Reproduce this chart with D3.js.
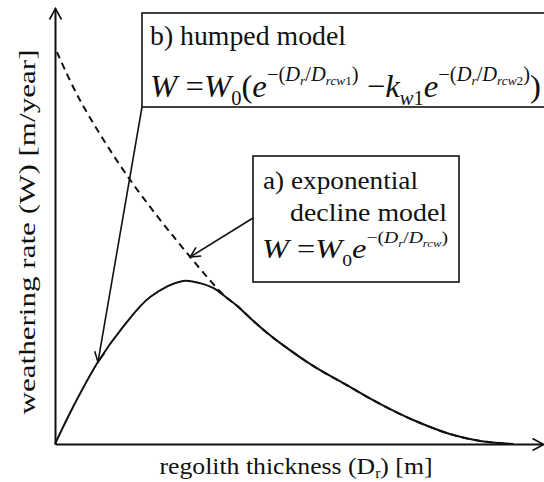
<!DOCTYPE html>
<html>
<head>
<meta charset="utf-8">
<script src="https://cdn.jsdelivr.net/npm/d3@7"></script>
<style>
  body { margin: 0; background: #fff; }
  svg text { font-family: "Liberation Serif", "Times New Roman", Times, serif; fill: #111; white-space: pre; }
</style>
</head>
<body>
<svg id="chart" width="544" height="482"></svg>
<script>
/*
 conceptual sketch, no ticks: thickness and rate are in arbitrary units
 values
*/
var thickness = [0, 0.37, 0.88, 1.39, 1.95, 2.62, 2.97, 3.24, 3.48, 3.73, 4.00, 4.30, 4.61, 5.29, 5.98, 6.66, 7.34, 8.09, 8.71, 9.39];
var humped    = [0, 0.085, 0.188, 0.268, 0.337, 0.374, 0.369, 0.358, 0.339, 0.317, 0.289, 0.259, 0.232, 0.179, 0.135, 0.092, 0.055, 0.023, 0.007, 0];
var expThickness = [0.04, 0.51, 1.50, 2.77, 3.48, 3.73, 4.00, 4.30, 4.61, 5.29, 5.98, 6.66, 7.34, 8.09, 8.71, 9.39];
var expDecline   = [0.899, 0.789, 0.612, 0.429, 0.339, 0.317, 0.289, 0.259, 0.232, 0.179, 0.135, 0.092, 0.055, 0.023, 0.007, 0];

var xLabel = ["regolith thickness (D", "r", ") [m]"];
var yLabel = "weathering rate (W) [m/year]";
var titleA = ["a) exponential", "decline model"];
var titleB = "b) humped model";

var svg = d3.select("#chart");
var x = d3.scaleLinear().domain([0, 10]).range([55, 543]);
var y = d3.scaleLinear().domain([0, 1]).range([444, 8]);

var defs = svg.append("defs");
function chevron(id, len, half) {
  defs.append("marker")
    .attr("id", id)
    .attr("markerUnits", "userSpaceOnUse")
    .attr("viewBox", (-len - 2) + " " + (-half - 2) + " " + (len + 4) + " " + (2 * half + 4))
    .attr("markerWidth", len + 4).attr("markerHeight", 2 * half + 4)
    .attr("refX", 0).attr("refY", 0)
    .attr("orient", "auto")
    .append("path")
    .attr("d", "M" + (-len) + "," + (-half) + "L0,0L" + (-len) + "," + half)
    .attr("fill", "none").attr("stroke", "#111").attr("stroke-width", 1.6);
}
chevron("axisHead", 11, 6);
chevron("pointHead", 10, 5);

// axes: only the domain lines, with arrow heads
var gx = svg.append("g").attr("transform", "translate(0," + y(0) + ")")
  .call(d3.axisBottom(x).tickValues([]).tickSizeOuter(0));
var gy = svg.append("g").attr("transform", "translate(" + x(0) + ",0)")
  .call(d3.axisLeft(y).tickValues([]).tickSizeOuter(0));
[gx, gy].forEach(function(g) {
  g.select(".domain").attr("stroke", "#111").attr("stroke-width", 2).attr("marker-end", "url(#axisHead)");
});

var line = d3.line()
  .x(function(d) { return x(d[0]); })
  .y(function(d) { return y(d[1]); })
  .curve(d3.curveCatmullRom.alpha(0.5));

svg.append("path")
  .datum(d3.zip(expThickness, expDecline))
  .attr("d", line)
  .attr("fill", "none").attr("stroke", "#111").attr("stroke-width", 2)
  .attr("stroke-dasharray", "7,5");

svg.append("path")
  .datum(d3.zip(thickness, humped))
  .attr("d", line)
  .attr("fill", "none").attr("stroke", "#111").attr("stroke-width", 2);

// axis labels
svg.append("text")
  .attr("x", 296).attr("y", 474)
  .attr("text-anchor", "middle").attr("font-size", 23)
  .attr("textLength", 273).attr("lengthAdjust", "spacingAndGlyphs")
  .call(function(t) {
    t.append("tspan").text(xLabel[0]);
    t.append("tspan").text(xLabel[1]).attr("font-size", 14).attr("dy", 4);
    t.append("tspan").text(xLabel[2]).attr("dy", -4);
  });

svg.append("text")
  .attr("transform", "rotate(-90)")
  .attr("x", -232).attr("y", 35)
  .attr("text-anchor", "middle").attr("font-size", 24)
  .attr("textLength", 365).attr("lengthAdjust", "spacingAndGlyphs")
  .text(yLabel);

// formula writer: [text, size, italic, level(px, down is +)]
function formula(g, px, py, len, parts) {
  var t = g.append("text").attr("x", px).attr("y", py)
    .attr("textLength", len).attr("lengthAdjust", "spacingAndGlyphs");
  var level = 0;
  parts.forEach(function(p) {
    t.append("tspan").text(p[0])
      .attr("font-size", p[1])
      .attr("font-style", p[2] ? "italic" : "normal")
      .attr("dy", p[3] - level);
    level = p[3];
  });
  return t;
}
function expo(sup, sub, last, lift) {
  var hi = -lift, lo = -lift + 4;
  return [["\u2212(", sup, 0, hi], ["D", sup, 1, hi], ["r", sub, 1, lo], ["/", sup, 0, hi],
          ["D", sup, 1, hi], ["rcw", sub, 1, lo]].concat(last ? [[last, sub, 0, lo]] : [])
          .concat([[")", sup, 0, hi]]);
}

// b) box
var boxB = svg.append("g");
boxB.append("rect").attr("x", 142).attr("y", 13).attr("width", 420).attr("height", 94)
  .attr("fill", "#fff").attr("stroke", "#111").attr("stroke-width", 1.6);
boxB.append("text").attr("x", 150).attr("y", 45).attr("font-size", 28)
  .attr("textLength", 196).attr("lengthAdjust", "spacingAndGlyphs").text(titleB);
formula(boxB, 150, 97, 391,
  [["W", 32, 1, 0], [" =", 32, 0, 0], ["W", 32, 1, 0], ["0", 20, 0, 8], ["(", 32, 0, 0], ["e", 32, 1, 0]]
  .concat(expo(20, 13, "1", 16))
  .concat([[" \u2212", 32, 0, 0], ["k", 32, 1, 0], ["w", 20, 1, 8], ["1", 20, 0, 8], ["e", 32, 1, 0]])
  .concat(expo(20, 13, "2", 16))
  .concat([[")", 32, 0, 0]]));

// a) box
var boxA = svg.append("g");
boxA.append("rect").attr("x", 253).attr("y", 156).attr("width", 206).attr("height", 126)
  .attr("fill", "#fff").attr("stroke", "#111").attr("stroke-width", 1.6);
boxA.append("text").attr("x", 263).attr("y", 189).attr("font-size", 26)
  .attr("textLength", 155).attr("lengthAdjust", "spacingAndGlyphs").text(titleA[0]);
boxA.append("text").attr("x", 290).attr("y", 221).attr("font-size", 26)
  .attr("textLength", 157).attr("lengthAdjust", "spacingAndGlyphs").text(titleA[1]);
formula(boxA, 262, 258, 186,
  [["W", 28, 1, 0], [" =", 28, 0, 0], ["W", 28, 1, 0], ["0", 17, 0, 8], ["e", 28, 1, 0]]
  .concat(expo(17, 11, null, 15)));

// pointers from the boxes to the curves
svg.append("line")
  .attr("x1", 142).attr("y1", 107)
  .attr("x2", x(thickness[2])).attr("y2", y(humped[2]))
  .attr("stroke", "#111").attr("stroke-width", 1.6).attr("marker-end", "url(#pointHead)");
svg.append("line")
  .attr("x1", 253).attr("y1", 218)
  .attr("x2", x(expThickness[3])).attr("y2", y(expDecline[3]))
  .attr("stroke", "#111").attr("stroke-width", 1.6).attr("marker-end", "url(#pointHead)");
</script>
</body>
</html>
